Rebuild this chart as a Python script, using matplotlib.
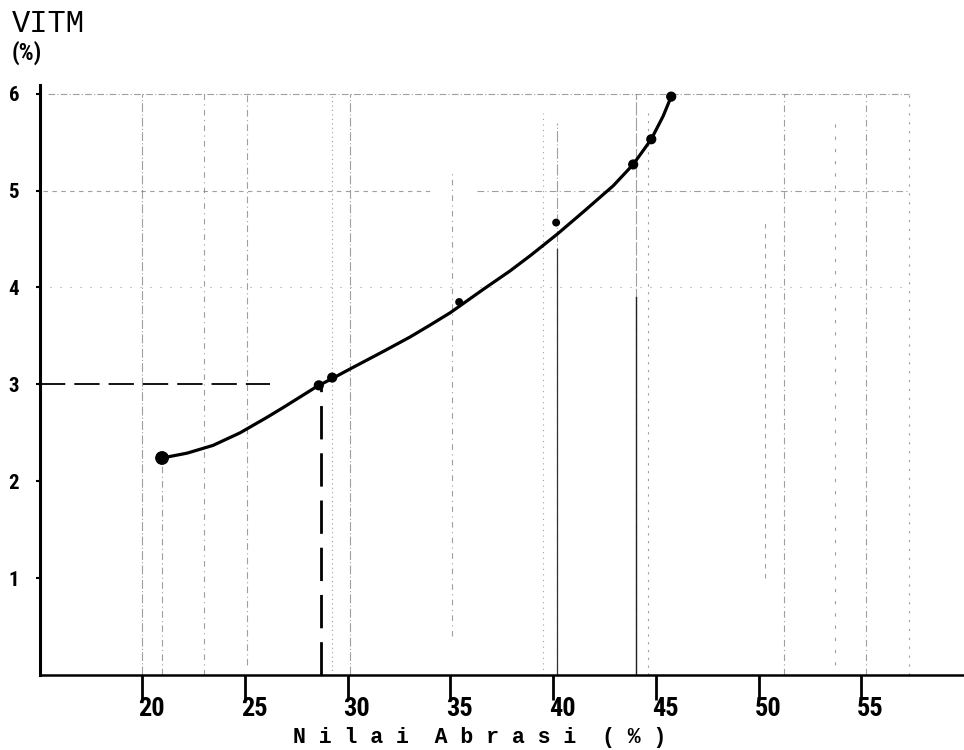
import numpy as np
import matplotlib
matplotlib.use("Agg")
import matplotlib.pyplot as plt
import matplotlib.transforms as mtransforms

# data
curve_x = [20.97, 22.19, 23.45, 24.77, 26.08, 26.86, 27.69, 28.52, 29.25, 30.13, 31.74, 33.05,
           34.0, 35.0, 36.6, 37.9, 38.9, 40.2, 41.47, 42.93, 43.9, 44.78, 45.36, 45.75]
curve_y = [2.24, 2.29, 2.37, 2.50, 2.66, 2.76, 2.87, 2.98, 3.06, 3.16, 3.34, 3.49,
           3.61, 3.74, 3.98, 4.17, 4.33, 4.55, 4.78, 5.05, 5.27, 5.53, 5.77, 5.97]
point_x = [20.97, 28.6, 29.25, 35.43, 40.15, 43.9, 44.78, 45.75]
point_y = [2.24, 2.99, 3.07, 3.85, 4.67, 5.27, 5.53, 5.97]
ref_x = 28.7   # reading at VITM = 3 %
ref_y = 3.0
x_ticks = [20, 25, 30, 35, 40, 45, 50, 55]
y_ticks = [1, 2, 3, 4, 5, 6]

hand = ['Roboto Condensed', 'DejaVu Sans']
mono = ['Liberation Mono', 'DejaVu Sans Mono']

fig = plt.figure(figsize=(9.64, 7.5), dpi=100)
ax = fig.add_axes([40 / 964, 75 / 750, 924 / 964, 590 / 750])
ax.set_xlim(15.03, 60.0)
ax.set_ylim(0, 6.09)

# faint lines of the graph paper showing through the scan
paper = dict(color='#777777', lw=0.8, alpha=0.7, zorder=1)
for x, y0, y1, ls in [(20.0, 0, 6, (0, (8, 2, 1, 2))), (20.97, 0, 2.2, (0, (6, 3, 1, 3))),
                      (23.0, 0, 6, (0, (5, 4, 1, 4))), (25.1, 0.1, 6, (0, (6, 3, 1, 3))),
                      (29.25, 0, 6, (0, (1, 3))), (30.1, 0, 6, (0, (8, 2, 1, 2))),
                      (35.1, 0.4, 5.2, (0, (5, 4, 1, 4))), (39.5, 0, 5.8, (0, (1, 4))),
                      (40.2, 0, 5.7, (0, (10, 2, 1, 2))), (44.05, 0, 6, (0, (12, 2))),
                      (44.6, 0, 5.8, (0, (2, 5))), (50.3, 1.0, 4.7, (0, (4, 5))),
                      (51.25, 0, 6, (0, (6, 3, 1, 3))), (53.7, 0.1, 5.7, (0, (3, 8))),
                      (55.25, 0, 6, (0, (6, 3, 1, 3))), (57.3, 0, 6, (0, (2, 6)))]:
    ax.plot([x, x], [y0, y1], ls=ls, **paper)
for y, x0, x1, ls in [(6.0, 15.4, 57.3, (0, (6, 2, 1, 2))), (5.0, 15.2, 34.0, (0, (4, 4))),
                      (5.0, 36.3, 57.3, (0, (6, 3, 1, 3))), (4.0, 15.5, 57.3, (0, (1, 8)))]:
    ax.plot([x0, x1], [y, y], ls=ls, **paper)
ax.plot([44.05, 44.05], [0, 3.9], color='#222222', lw=1.0, zorder=1)
ax.plot([40.2, 40.2], [0, 4.4], color='#333333', lw=0.9, zorder=1)

# dashed reading lines
ax.plot([15.03, 26.2], [ref_y, ref_y], color='black', lw=1.3, dashes=(14, 5), zorder=2)
ax.plot([ref_x, ref_x], [0, ref_y], color='black', lw=2.0, dashes=(12, 5), zorder=2)

ax.plot(curve_x, curve_y, color='black', lw=2.3, solid_capstyle='round', zorder=3)
sizes = [80, 40, 40, 22, 22, 40, 40, 40]
ax.scatter(point_x, point_y, s=sizes, color='black', zorder=4)

for side in ['top', 'right']:
    ax.spines[side].set_visible(False)
ax.spines['left'].set_linewidth(2.2)
ax.spines['bottom'].set_linewidth(1.8)

ax.set_xticks(x_ticks)
ax.set_xticklabels([str(v) for v in x_ticks], family=hand, fontsize=19, fontweight='bold',
                   fontstretch='condensed')
ax.set_yticks(y_ticks)
ax.set_yticklabels([str(v) for v in y_ticks], family=hand, fontsize=15, fontweight='bold',
                   fontstretch='condensed')
ax.tick_params(axis='x', direction='out', length=18, width=2, pad=-2)
ax.tick_params(axis='y', direction='out', length=3, width=1.5, pad=12)

# handwritten labels sit just right of their tick marks
shift = mtransforms.ScaledTranslation(-4 / 100, 0, fig.dpi_scale_trans)
for lab in ax.get_xticklabels():
    lab.set_ha('left')
    lab.set_transform(lab.get_transform() + shift)

fig.text(480 / 964, 1 - 737 / 750, 'N i l a i  A b r a s i  ( % )', family=mono,
         fontsize=15.5, fontweight='bold', ha='center', va='center')
fig.text(12 / 964, 1 - 24 / 750, 'VITM', family=mono, fontsize=22,
         ha='left', va='center')
fig.text(12 / 964, 1 - 53 / 750, '(%)', family=hand, fontsize=17, fontweight='bold',
         fontstretch='condensed', ha='left', va='center')

fig.savefig('out.png', dpi=100)
